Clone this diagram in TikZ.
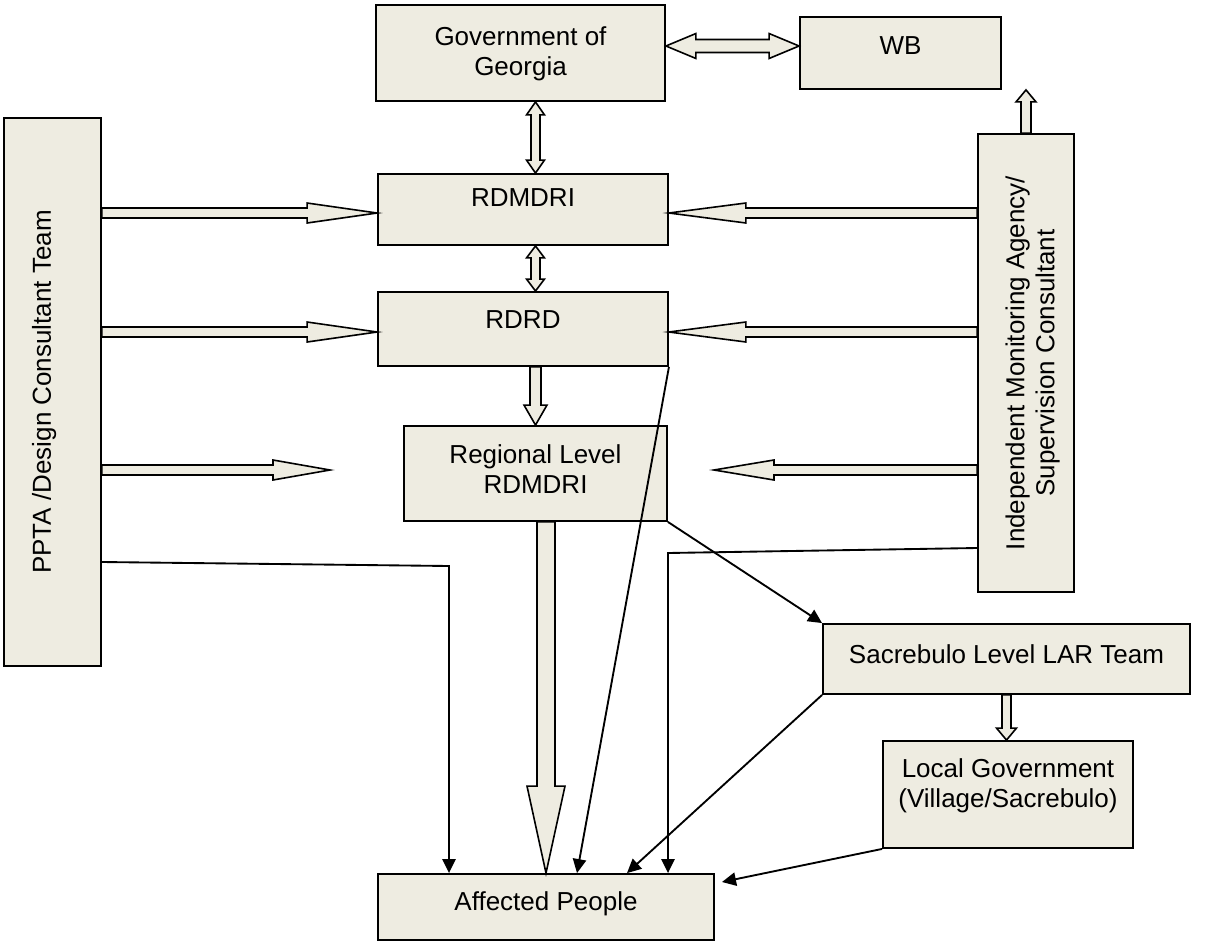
\documentclass[tikz,border=0pt]{standalone}
\usepackage{fontspec}
\setmainfont{Liberation Sans}
\usetikzlibrary{calc,arrows.meta}
\definecolor{boxfill}{HTML}{EEECE1}

% hollow block arrow: shaft half width, head half width, head length (px), from, to
\newcommand\blockarrow[5]{%
  \pgfmathsetlengthmacro\bsw{#1*0.75pt}%
  \pgfmathsetlengthmacro\bhw{#2*0.75pt}%
  \pgfmathsetlengthmacro\bhl{#3*0.75pt}%
  \coordinate (ba-h) at ($(#5)!\bhl!(#4)$);
  \draw[blockline] ($(#4)!\bsw!90:(#5)$) -- ($(ba-h)!\bsw!90:(#5)$) -- ($(ba-h)!\bhw!90:(#5)$)
    -- (#5) -- ($(ba-h)!\bhw!-90:(#5)$) -- ($(ba-h)!\bsw!-90:(#5)$) -- ($(#4)!\bsw!-90:(#5)$) -- cycle;
}
% same, with a head at both ends
\newcommand\dblockarrow[5]{%
  \pgfmathsetlengthmacro\bsw{#1*0.75pt}%
  \pgfmathsetlengthmacro\bhw{#2*0.75pt}%
  \pgfmathsetlengthmacro\bhl{#3*0.75pt}%
  \coordinate (ba-a) at ($(#4)!\bhl!(#5)$);
  \coordinate (ba-b) at ($(#5)!\bhl!(#4)$);
  \draw[blockline] (#4) -- ($(ba-a)!\bhw!90:(#5)$) -- ($(ba-a)!\bsw!90:(#5)$) -- ($(ba-b)!\bsw!90:(#5)$)
    -- ($(ba-b)!\bhw!90:(#5)$) -- (#5) -- ($(ba-b)!\bhw!-90:(#5)$) -- ($(ba-b)!\bsw!-90:(#5)$)
    -- ($(ba-a)!\bsw!-90:(#5)$) -- ($(ba-a)!\bhw!-90:(#5)$) -- cycle;
}

\tikzset{
  box/.style={draw, line width=1.4pt, fill=boxfill, align=center, inner sep=0pt,
    font=\fontsize{19.5}{22.5}\selectfont, text height=14pt},
  twolines/.style={text height=36.5pt},
  size/.style 2 args={minimum width=#1*0.75pt, minimum height=#2*0.75pt},
  blockline/.style={line width=1.2pt, fill=boxfill, line join=miter},
  thinarrow/.style={line width=1.4pt, -{Triangle[length=10.5pt, width=10pt]}},
}

\begin{document}
\begin{tikzpicture}[x=0.75pt, y=-0.75pt]
\useasboundingbox (0,0) rectangle (1208,943);

% Boxes
\node[box, twolines, size={289}{96}, text depth=3pt] (gov) at (520.5,53) {Government of\\Georgia};
\node[box, size={201}{72}, text depth=12pt] (wb) at (900.5,53) {WB};
\node[box, size={290}{71}, text depth=18pt] (rdmdri) at (523,209.5) {RDMDRI};
\node[box, size={290}{74}, text depth=15pt] (rdrd) at (523,329) {RDRD};
\node[box, twolines, size={263}{95}, text depth=6.75pt] (regional) at (535.5,473.5) {Regional Level\\RDMDRI};
\node[box, size={548}{97}, text depth=16.5pt, rotate=90] (ppta) at (52.5,392) {PPTA /Design Consultant Team};
\node[box, size={458}{96}, text height=42.5pt, text depth=0pt, rotate=90] (ima) at (1026,363) {Independent Monitoring Agency/\\Supervision Consultant};
\node[box, size={367}{70}, text depth=7.5pt] (sacre) at (1006.5,659) {Sacrebulo Level LAR Team};
\node[box, twolines, size={250}{107}, text depth=17.25pt] (localgov) at (1008,794.5) {Local Government\\(Village/Sacrebulo)};
\node[box, size={336}{66}, text depth=9pt] (affected) at (546,907) {Affected People};

% Block arrows from PPTA
\coordinate (pa1) at (ppta.south |- 0,213);
\coordinate (pa2) at (ppta.south |- 0,332);
\coordinate (pa3) at (ppta.south |- 0,470);
\coordinate (rm1) at (rdmdri.west |- 0,213);
\coordinate (rd2) at (rdrd.west |- 0,332);
\coordinate (pend) at (330,470);
\blockarrow{5}{10}{70}{pa1}{rm1}
\blockarrow{5}{10}{70}{pa2}{rd2}
\blockarrow{5}{10}{57}{pa3}{pend}

% Block arrows from the monitoring agency
\coordinate (ia1) at (ima.north |- 0,213);
\coordinate (ia2) at (ima.north |- 0,332);
\coordinate (ia3) at (ima.north |- 0,470);
\coordinate (rm2) at (rdmdri.east |- 0,213);
\coordinate (rd3) at (rdrd.east |- 0,332);
\coordinate (iend) at (714,470);
\blockarrow{5}{10}{77}{ia1}{rm2}
\blockarrow{5}{10}{77}{ia2}{rd3}
\blockarrow{5}{10}{60}{ia3}{iend}

% Vertical chain
\coordinate (gs) at (gov.south -| regional.north);
\coordinate (mn) at (rdmdri.north -| regional.north);
\coordinate (ms) at (rdmdri.south -| regional.north);
\coordinate (dn) at (rdrd.north -| regional.north);
\coordinate (ds) at (rdrd.south -| regional.north);
\coordinate (rs) at (regional.south -| affected.north);
\dblockarrow{4.5}{9}{13}{gs}{mn}
\dblockarrow{4.5}{9}{12}{ms}{dn}
\blockarrow{5.5}{11.5}{20}{ds}{regional.north}
\blockarrow{9}{19}{87}{rs}{affected.north}

% Government and WB
\coordinate (ge) at (gov.east |- 0,46);
\coordinate (ww) at (wb.west |- 0,46);
\coordinate (ws) at (wb.south -| ima.east);
\dblockarrow{6.5}{12.5}{30}{ge}{ww}
\blockarrow{5}{10}{12}{ima.east}{ws}

% Sacrebulo to local government
\coordinate (ln) at (sacre.south |- localgov.north);
\blockarrow{4.5}{10}{12}{sacre.south}{ln}

% Thin arrows
\coordinate (pbend) at (449,566);
\coordinate (ibend) at (668,553);
\coordinate (lgend) at (722,882);
\draw[thinarrow] (ppta.south |- 0,562) -- (pbend) -- (pbend |- affected.north);
\draw[thinarrow] (ima.north |- 0,548) -- (ibend) -- (ibend |- affected.north);
\draw[thinarrow] (rdrd.south east) -- (affected.north -| 577,0);
\draw[thinarrow] (regional.south east) -- (sacre.north west);
\draw[thinarrow] (sacre.south west) -- (affected.north -| 627,0);
\draw[thinarrow] (localgov.south west) -- (lgend);
\end{tikzpicture}
\end{document}
